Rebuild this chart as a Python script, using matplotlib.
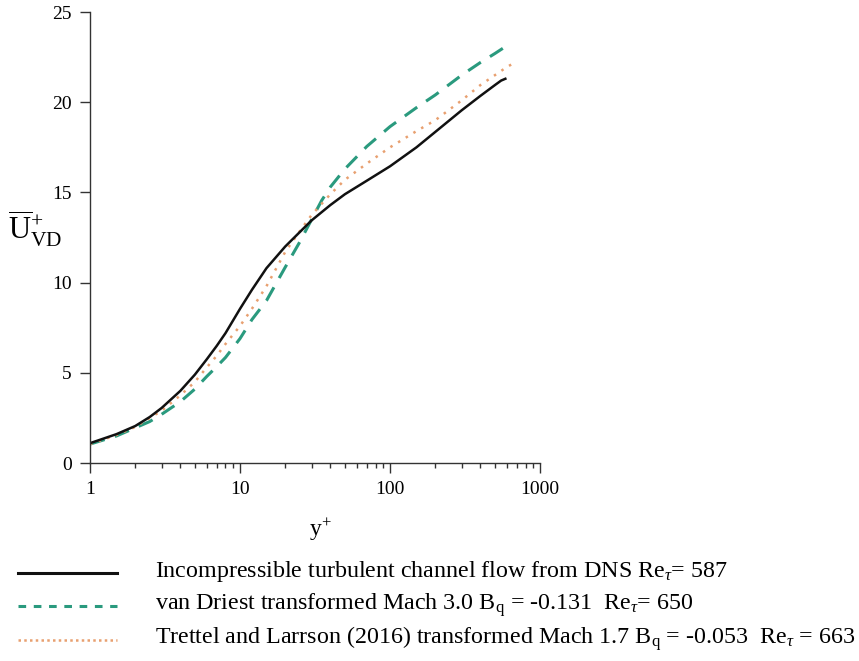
import numpy as np
import matplotlib
matplotlib.use('Agg')
import matplotlib.pyplot as plt
import matplotlib.ticker as mticker
from matplotlib.lines import Line2D

plt.rcParams['font.family'] = ['Liberation Serif', 'DejaVu Serif']
plt.rcParams['mathtext.fontset'] = 'custom'
plt.rcParams['mathtext.rm'] = 'Liberation Serif'
plt.rcParams['mathtext.it'] = 'Liberation Serif:italic'

# === data ===
yp_dns = [1, 1.5, 2, 2.5, 3, 4, 5, 6, 7, 8, 10, 12, 15, 20, 25, 30, 40, 50, 70,
          100, 150, 200, 300, 400, 500, 550, 587]
u_dns = [1.1, 1.6, 2.05, 2.55, 3.05, 4.0, 4.9, 5.75, 6.5, 7.2, 8.55, 9.6,
         10.8, 12.0, 12.8, 13.45, 14.3, 14.9, 15.65, 16.45, 17.5, 18.35,
         19.55, 20.35, 20.95, 21.2, 21.3]

yp_vd = [1, 1.5, 2, 2.5, 3, 4, 5, 6, 7, 8, 10, 12, 15, 20, 25, 30, 35, 40, 50,
         70, 100, 150, 200, 300, 400, 500, 580, 650]
u_vd = [1.05, 1.5, 1.95, 2.3, 2.7, 3.4, 4.1, 4.8, 5.35, 5.85, 6.9, 7.95, 9.0,
        10.85, 12.25, 13.5, 14.55, 15.3, 16.3, 17.55, 18.65, 19.7, 20.4, 21.5,
        22.2, 22.7, 23.05, 23.2]

yp_tl = [1, 1.5, 2, 3, 4, 5, 6, 7, 8, 10, 12, 15, 20, 25, 30, 40, 50, 70, 100,
         150, 200, 300, 400, 500, 600, 663]
u_tl = [1.05, 1.55, 2.0, 2.9, 3.75, 4.5, 5.3, 5.95, 6.6, 7.6, 8.55, 9.8, 11.7,
        12.85, 13.75, 14.9, 15.7, 16.6, 17.5, 18.4, 19.0, 20.1, 20.95, 21.5,
        21.95, 22.15]

labels = [
    r'Incompressible turbulent channel flow from DNS Re$_{\tau}$= 587',
    r'van Driest transformed Mach 3.0 B$_{\mathrm{q}}$ = -0.131  Re$_{\tau}$= 650',
    r'Trettel and Larrson (2016) transformed Mach 1.7 B$_{\mathrm{q}}$ = -0.053  Re$_{\tau}$ = 663',
]

c_dns = '#111111'
c_vd = '#2a9a7e'
c_tl = '#e8a070'

# === Plot ===
fig = plt.figure(figsize=(8.59, 6.61), dpi=100)
ax = fig.add_axes([0.1048, 0.2995, 0.5239, 0.6823])

ax.plot(yp_vd, u_vd, color=c_vd, lw=2.2, linestyle=(0, (5, 3.5)))
ax.plot(yp_tl, u_tl, color=c_tl, lw=1.8, linestyle=(0, (1, 2.6)))
ax.plot(yp_dns, u_dns, color=c_dns, lw=1.8)

ax.set_xscale('log')
ax.set_xlim(1, 1000)
ax.set_ylim(0, 25)
ax.set_yticks([0, 5, 10, 15, 20, 25])
ax.xaxis.set_major_locator(mticker.FixedLocator([1, 10, 100, 1000]))
ax.xaxis.set_major_formatter(mticker.FuncFormatter(lambda x, _: f'{x:.0f}'))
ax.xaxis.set_minor_locator(mticker.LogLocator(base=10, subs=np.arange(2, 10)))
ax.xaxis.set_minor_formatter(mticker.NullFormatter())

for s in ['top', 'right']:
    ax.spines[s].set_visible(False)
for s in ['left', 'bottom']:
    ax.spines[s].set_linewidth(1.0)
    ax.spines[s].set_color('#333333')
ax.tick_params(which='major', length=7, width=1.0, color='#333333',
               labelsize=14, pad=6)
ax.tick_params(which='minor', length=3.5, width=1.0, color='#333333')

ax.set_xlabel(r'y$^{+}$', fontsize=17)
ax.xaxis.set_label_coords(0.511, -0.118)
ax.set_ylabel(r'$\overline{\mathrm{U}}^{+}_{\mathrm{VD}}$', fontsize=22,
              rotation=0, ha='center', va='center')
ax.yaxis.set_label_coords(-0.122, 0.52)

# legend below the axes
handles = [
    dict(color=c_dns, lw=2.2, linestyle='-'),
    dict(color=c_vd, lw=2.2, linestyle=(0, (2.5, 2.5))),
    dict(color=c_tl, lw=1.8, linestyle=(0, (1, 1.3))),
]
rows_y = [1 - 573 / 661, 1 - 606 / 661, 1 - 640 / 661]
for h, lab, yy in zip(handles, labels, rows_y):
    fig.add_artist(Line2D([18 / 859, 117 / 859], [yy, yy],
                          transform=fig.transFigure, **h))
    fig.text(155 / 859, yy + 0.002, lab, fontsize=17.3, ha='left', va='center')

fig.savefig('out.png', dpi=100)
